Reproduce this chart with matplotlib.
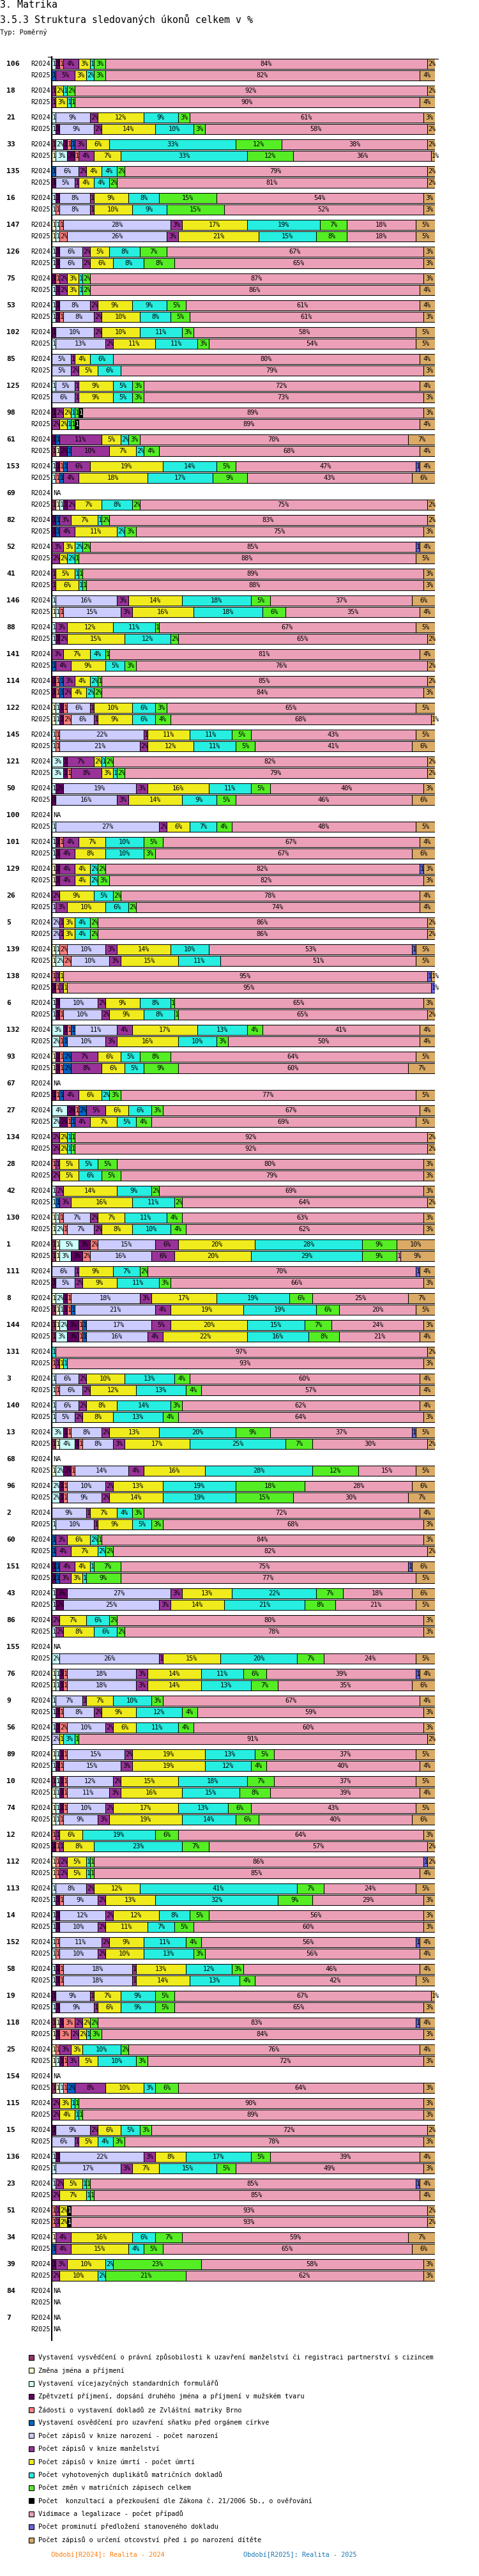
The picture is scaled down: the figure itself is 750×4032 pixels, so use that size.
import matplotlib
matplotlib.use('Agg')
import matplotlib.pyplot as plt
from matplotlib.patches import Rectangle
import numpy as np

# ---------------- data ----------------
groups = [106, 18, 21, 33, 135, 16, 147, 126, 75, 53, 102, 85, 125, 98, 61, 153, 69, 82, 52, 41,
          146, 88, 141, 114, 122, 145, 121, 50, 100, 101, 129, 26, 5, 139, 138, 6, 132, 93, 67, 27,
          134, 28, 42, 130, 1, 111, 8, 144, 131, 3, 140, 13, 68, 96, 2, 60, 151, 43, 86, 155,
          76, 9, 56, 89, 10, 74, 12, 112, 113, 14, 152, 58, 19, 118, 25, 154, 115, 15, 136, 23,
          51, 34, 39, 84, 7]

periods = ['R2024', 'R2025']

series_names = [
    'Vystavení vysvědčení o právní způsobilosti k uzavření manželství či registraci partnerství s cizincem',
    'Změna jména a příjmení',
    'Vystavení vícejazyčných standardních formulářů',
    'Zpětvzetí příjmení, dopsání druhého jména a příjmení v mužském tvaru',
    'Žádosti o vystavení dokladů ze Zvláštní matriky Brno',
    'Vystavení osvědčení pro uzavření sňatku před orgánem církve',
    'Počet zápisů v knize narození - počet narození',
    'Počet zápisů v knize manželství',
    'Počet zápisů v knize úmrtí - počet úmrtí',
    'Počet vyhotovených duplikátů matričních dokladů',
    'Počet změn v matričních zápisech celkem',
    'Počet  konzultací a přezkoušení dle Zákona č. 21/2006 Sb., o ověřování',
    'Vidimace a legalizace - počet případů',
    'Počet prominutí předložení stanoveného dokladu',
    'Počet zápisů o určení otcovství před i po narození dítěte',
]

series_colors = ['#993366', '#FFFFCC', '#CCFFFF', '#660066', '#FF8080', '#0066CC', '#CCCCFF',
                 '#993399', '#F0EB1C', '#26EEE0', '#55EE25', '#000000', '#EBA0B8', '#6666DD',
                 '#DAAA66']

# percentages per row, series order as above (None = NA)
values_2024 = [
    [0,0,1,1,1,0,0,4,3,1,3,0,84,0,2],      # 106
    [0,0,0,0,0,0,0,1,2,1,2,0,92,0,2],      # 18
    [0,0,1,0,0,0,9,2,12,9,3,0,61,0,3],     # 21
    [1,0,2,1,1,1,0,3,6,33,12,0,38,0,2],    # 33
    [0,0,0,0,0,1,6,2,4,4,2,0,79,0,2],      # 135
    [0,0,1,1,0,0,8,1,9,8,15,0,54,0,3],     # 16
    [0,1,1,0,1,0,28,3,17,19,7,0,18,0,5],   # 147
    [0,0,1,1,0,0,6,2,5,8,7,0,67,0,3],      # 126
    [0,0,0,1,1,0,0,2,3,1,2,0,87,0,3],      # 75
    [0,0,1,1,0,0,8,2,9,9,5,0,61,0,4],      # 53
    [0,0,0,1,0,0,10,2,10,11,3,0,58,0,5],   # 102
    [0,0,0,0,0,0,5,1,4,6,0,0,80,0,4],      # 85
    [0,0,1,0,0,0,5,1,9,5,3,0,72,0,4],      # 125
    [0,0,0,1,0,0,0,2,2,1,1,1,89,0,3],      # 98
    [0,0,0,1,0,1,0,11,5,2,3,0,70,0,7],     # 61
    [0,0,1,1,1,1,0,6,19,14,5,0,47,1,4],    # 153
    None,                                  # 69
    [0,0,0,1,0,1,0,3,7,1,2,0,83,0,2],      # 82
    [0,0,0,0,0,0,0,3,3,2,2,0,85,1,4],      # 52
    [0,0,0,0,0,0,0,1,5,1,1,0,89,0,3],      # 41
    [0,0,1,0,0,0,16,3,14,18,5,0,37,0,6],   # 146
    [0,0,1,0,0,0,0,3,12,11,1,0,67,0,5],    # 88
    [0,0,0,0,0,0,0,3,7,4,1,0,81,0,4],      # 141
    [0,0,0,1,1,1,0,3,4,2,1,0,85,0,2],      # 114
    [0,1,1,1,1,0,6,1,10,6,3,0,65,0,5],     # 122
    [0,0,1,0,1,0,22,1,11,11,5,0,43,0,5],   # 145
    [0,0,3,1,0,0,0,7,2,1,2,0,82,0,2],      # 121
    [0,0,1,2,0,0,19,3,16,11,5,0,40,0,3],   # 50
    None,                                  # 100
    [0,0,1,1,1,0,0,4,7,10,5,0,67,0,4],     # 101
    [0,1,0,1,0,0,0,4,4,2,2,0,82,1,3],      # 129
    [0,0,0,0,0,0,0,2,9,5,2,0,78,0,4],      # 26
    [0,0,0,0,0,0,2,1,3,4,2,0,86,0,2],      # 5
    [0,1,1,0,2,0,10,3,14,10,0,0,53,1,5],   # 139
    [0,0,0,0,1,0,0,1,1,0,0,0,95,1,1],      # 138
    [0,0,1,1,0,0,10,2,9,8,1,0,65,0,3],     # 6
    [0,0,3,1,1,1,11,4,17,13,4,0,41,0,4],   # 132
    [0,1,0,1,1,2,0,7,6,5,8,0,64,0,5],      # 93
    None,                                  # 67
    [0,0,4,2,1,2,0,5,6,6,3,0,67,0,4],      # 27
    [0,0,0,0,0,0,0,2,2,1,1,0,92,0,2],      # 134
    [0,0,0,0,1,0,0,1,5,5,5,0,80,0,3],      # 28
    [0,0,1,0,0,0,0,2,14,9,2,0,69,0,3],     # 42
    [0,1,1,0,1,0,7,2,7,11,4,0,63,0,3],     # 130
    [1,1,5,3,2,0,15,6,20,28,9,0,0,0,10],   # 1
    [0,0,0,0,0,0,6,1,9,7,2,0,70,1,4],      # 111
    [0,1,2,1,1,0,18,3,17,19,6,0,25,0,7],   # 8
    [1,1,2,3,1,1,17,5,20,15,7,0,24,0,3],   # 144
    [0,0,0,0,0,0,0,0,0,1,0,0,97,0,2],      # 131
    [0,0,1,0,0,0,6,2,10,13,4,0,60,0,4],    # 3
    [0,0,1,0,0,0,6,2,8,14,3,0,62,0,4],     # 140
    [0,0,3,1,1,0,8,2,13,20,9,0,37,1,5],    # 13
    None,                                  # 68
    [0,0,2,1,1,0,10,2,13,19,18,0,28,0,6],  # 96
    [0,0,0,0,0,0,9,1,7,4,3,0,72,0,4],      # 2
    [0,0,0,0,0,1,0,3,6,2,1,0,84,0,3],      # 60
    [0,0,0,1,0,1,0,4,4,1,7,0,75,1,6],      # 151
    [0,0,1,3,0,0,27,3,13,22,7,0,18,0,6],   # 43
    [0,0,0,0,0,0,0,2,7,6,2,0,80,0,3],      # 86
    None,                                  # 155
    [0,1,1,1,1,0,18,3,14,11,6,0,39,1,4],   # 76
    [0,0,1,0,0,0,7,1,7,10,3,0,67,0,4],     # 9
    [0,0,1,1,2,0,10,2,6,11,4,0,60,0,3],    # 56
    [0,1,1,1,1,0,15,2,19,13,5,0,37,0,5],   # 89
    [1,0,1,1,1,0,12,2,15,18,7,0,37,0,5],   # 10
    [0,1,1,1,1,0,10,2,17,13,6,0,43,0,5],   # 74
    [0,0,0,0,1,0,0,1,6,19,6,0,64,0,3],     # 12
    [0,1,0,0,1,0,0,2,5,1,1,0,86,1,2],      # 112
    [0,0,1,0,0,0,8,2,12,41,7,0,24,0,5],    # 113
    [0,0,1,1,0,0,12,2,12,8,5,0,56,0,3],    # 14
    [0,0,1,0,1,0,11,2,9,11,4,0,56,1,4],    # 152
    [0,0,1,1,1,0,18,1,13,12,3,0,46,0,4],   # 58
    [0,0,0,1,0,0,9,1,7,9,5,0,67,0,1],      # 19
    [1,1,0,1,3,0,0,2,2,0,2,0,83,1,4],      # 118
    [0,1,0,0,1,0,0,3,3,10,2,0,76,0,4],     # 25
    None,                                  # 154
    [0,0,0,0,0,0,0,2,3,1,1,0,90,0,3],      # 115
    [0,0,0,1,0,0,9,2,6,5,3,0,72,0,2],      # 15
    [0,0,1,1,0,0,22,3,8,17,5,0,39,0,4],    # 136
    [0,0,1,0,0,0,0,2,5,1,1,0,85,1,4],      # 23
    [0,0,0,0,1,0,0,1,2,0,0,1,93,0,2],      # 51
    [0,1,0,0,0,0,0,4,16,6,7,0,59,0,7],     # 34
    [0,0,0,1,0,0,0,3,10,2,23,0,58,0,3],    # 39
    None,                                  # 84
    None,                                  # 7
]

values_2025 = [
    [0,0,0,0,0,1,0,5,3,2,3,0,82,0,4],      # 106
    [0,0,0,0,0,0,0,1,3,1,1,0,90,0,4],      # 18
    [0,0,1,1,0,0,9,2,14,10,3,0,58,0,2],    # 21
    [0,1,3,2,1,0,0,4,7,33,12,0,36,0,1],    # 33
    [0,0,0,1,0,0,5,1,4,4,2,0,81,0,2],      # 135
    [0,0,1,0,1,0,8,1,10,9,15,0,52,0,3],    # 16
    [0,1,1,0,2,0,26,3,21,15,8,0,18,0,5],   # 147
    [0,0,1,1,0,0,6,2,6,8,8,0,65,0,3],      # 126
    [0,0,1,1,0,0,0,2,3,1,2,0,86,0,4],      # 75
    [0,0,1,1,1,0,8,2,10,8,5,0,61,0,3],     # 53
    [0,0,1,0,0,0,13,2,11,11,3,0,54,0,5],   # 102
    [0,0,0,0,0,0,5,2,5,6,0,0,79,0,3],      # 85
    [0,0,0,0,0,0,6,1,9,5,3,0,73,0,3],      # 125
    [0,0,0,0,0,0,0,2,2,1,1,1,89,0,4],      # 98
    [1,1,0,2,0,1,0,10,7,2,4,0,68,0,4],     # 61
    [0,0,1,0,1,1,0,4,18,17,9,0,43,0,6],    # 153
    [1,1,1,1,0,0,0,2,7,8,2,0,75,0,2],      # 69
    [0,0,0,1,0,1,0,4,11,2,3,0,75,0,3],     # 82
    [0,0,0,0,0,0,0,2,2,2,1,0,88,0,5],      # 52
    [0,0,0,0,0,0,0,1,6,1,1,0,88,0,3],      # 41
    [0,1,1,0,1,0,15,3,16,18,6,0,35,0,4],   # 146
    [0,0,1,1,0,0,0,2,15,12,2,0,65,0,2],    # 88
    [0,0,0,0,0,1,0,4,9,5,3,0,76,0,2],      # 141
    [0,0,0,1,1,1,0,2,4,2,2,0,84,0,3],      # 114
    [0,1,1,1,2,0,6,1,9,6,4,0,68,0,1],      # 122
    [0,0,1,0,1,0,21,2,12,11,5,0,41,0,6],   # 145
    [0,0,3,1,1,0,0,8,3,1,2,0,79,0,2],      # 121
    [0,0,0,1,0,0,16,3,14,9,5,0,46,0,6],    # 50
    [0,0,1,0,0,0,27,2,6,7,4,0,48,0,5],     # 100
    [0,0,1,1,0,0,0,4,8,10,3,0,67,0,6],     # 101
    [0,1,0,1,0,0,0,4,4,2,3,0,82,0,3],      # 129
    [0,0,0,0,0,0,1,3,10,6,2,0,74,0,4],     # 26
    [0,0,0,0,0,0,2,1,3,4,2,0,86,0,2],      # 5
    [0,1,2,0,2,0,10,3,15,11,0,0,51,0,5],   # 139
    [0,0,0,1,1,0,0,1,1,0,0,0,95,1,0],      # 138
    [0,0,1,1,1,0,10,2,9,8,1,0,65,0,2],     # 6
    [0,0,2,0,1,1,10,3,16,10,3,0,50,0,4],   # 132
    [0,1,0,1,1,2,0,8,6,5,9,0,60,0,7],      # 93
    [0,0,0,1,1,1,0,4,6,2,3,0,77,0,5],      # 67
    [0,0,2,2,1,1,0,4,7,5,4,0,69,0,5],      # 27
    [0,0,0,0,0,0,0,2,2,1,1,0,92,0,2],      # 134
    [0,0,0,0,0,0,0,2,5,6,5,0,79,0,3],      # 28
    [0,0,1,0,0,1,0,3,16,11,2,0,64,0,2],    # 42
    [0,1,2,0,1,0,7,2,8,10,4,0,62,0,3],     # 130
    [1,1,3,3,2,0,16,6,20,29,9,0,1,0,9],    # 1
    [0,0,0,1,0,0,5,2,9,11,3,0,66,0,3],     # 111
    [1,1,1,1,1,1,21,4,19,19,6,0,20,0,5],   # 8
    [1,0,3,3,1,1,16,4,22,16,8,0,21,0,4],   # 144
    [0,0,0,0,1,0,0,1,1,1,0,0,93,0,3],      # 131
    [0,0,1,0,1,0,6,2,12,13,4,0,57,0,4],    # 3
    [0,0,1,0,0,0,5,2,8,13,4,0,64,0,3],     # 140
    [1,1,4,1,1,0,8,3,17,25,7,0,30,0,2],    # 13
    [0,1,2,2,1,0,14,4,16,28,12,0,15,0,5],  # 68
    [0,0,2,1,1,0,9,2,14,19,15,0,30,0,7],   # 96
    [0,0,1,0,0,0,10,1,9,5,3,0,68,0,3],     # 2
    [0,0,0,0,0,1,0,4,7,2,2,0,82,0,2],      # 60
    [0,0,0,1,0,1,0,3,3,1,9,0,77,0,5],      # 151
    [0,0,1,2,0,0,25,3,14,21,8,0,21,0,5],   # 43
    [0,0,1,0,0,0,0,2,8,6,2,0,78,0,3],      # 86
    [0,0,2,0,0,0,26,1,15,20,7,0,24,0,5],   # 155
    [0,1,1,1,1,0,18,3,14,13,7,0,35,0,6],   # 76
    [0,0,1,1,1,0,8,2,9,12,4,0,59,0,3],     # 9
    [0,0,0,0,0,0,2,0,1,3,1,0,91,0,2],      # 56
    [0,0,1,1,1,0,15,3,19,12,4,0,40,0,4],   # 89
    [0,1,1,1,1,0,11,3,16,15,8,0,39,0,4],   # 10
    [0,1,1,0,1,0,9,3,19,14,6,0,40,0,6],    # 74
    [0,0,0,1,1,0,0,1,8,23,7,0,57,0,2],     # 12
    [0,1,0,0,1,0,0,2,5,1,1,0,85,0,4],      # 112
    [0,0,1,1,1,0,9,2,13,32,9,0,29,0,3],    # 113
    [0,0,1,1,0,0,10,2,11,7,5,0,60,0,3],    # 14
    [0,0,1,0,1,0,10,2,10,13,3,0,56,0,4],   # 152
    [0,0,1,1,1,0,18,1,14,13,4,0,42,0,5],   # 58
    [0,0,1,1,0,0,9,1,6,9,5,0,65,0,3],      # 19
    [0,1,0,1,3,0,0,2,2,1,3,0,84,0,3],      # 118
    [0,1,1,1,1,0,0,3,5,10,3,0,72,0,3],     # 25
    [1,1,1,0,1,2,0,8,10,3,6,0,64,0,3],     # 154
    [0,0,0,0,0,0,0,2,4,1,1,0,89,0,3],      # 115
    [0,0,0,0,0,0,6,1,5,4,3,0,78,0,3],      # 15
    [0,0,1,0,0,0,17,3,7,15,5,0,49,0,3],    # 136
    [0,0,0,0,0,0,0,2,7,1,1,0,85,0,4],      # 23
    [0,0,0,0,1,0,0,1,2,0,0,1,93,0,2],      # 51
    [0,0,0,0,0,1,0,4,15,4,5,0,65,0,6],     # 34
    [0,0,0,0,0,0,0,2,10,2,21,0,62,0,3],    # 39
    None,                                  # 84
    None,                                  # 7
]

footer_texts = ['Období[R2024]: Realita - 2024', 'Období[R2025]: Realita - 2025']
footer_colors = ['#FF7F0E', '#1F77B4']

# ---------------- layout ----------------
W, H, DPI = 750, 4032, 100
MONO = 'DejaVu Sans Mono'
SMALL = 7.4
CHAR_W = 0.602 * SMALL * DPI / 72.0   # px per character
PX = 6.0                              # px per percent unit

fig = plt.figure(figsize=(W / DPI, H / DPI), dpi=DPI)
fig.patch.set_facecolor('white')

AX_TOP, AX_BOT, AX_L, AX_W = 88, 3664, 81, 600
ax = fig.add_axes([AX_L / W, 1 - AX_BOT / H, AX_W / W, (AX_BOT - AX_TOP) / H])
ax.set_xlim(0, 100)
ax.set_ylim(AX_BOT - AX_TOP, 0)
ax.axis('off')

GROUP_PITCH, ROW_OFF, FIRST, BAR_H = 42.0, 18.0, 12.0, 15.4

# titles
fig.text(0, 1 - 8 / H, '3. Matrika', family=MONO, fontsize=10.7, va='center', ha='left')
fig.text(0, 1 - 30 / H, '3.5.3 Struktura sledovaných úkonů celkem v %', family=MONO,
         fontsize=10.7, va='center', ha='left')
fig.text(0, 1 - 51 / H, 'Typ: Poměrný', family=MONO, fontsize=SMALL, va='center', ha='left')

# axis lines
ax.plot([0, 0], [0, AX_BOT - AX_TOP], color='black', lw=1.5, clip_on=False,
        solid_capstyle='butt', zorder=5)
ax.plot([0, 100.83], [4.3, 4.3], color='black', lw=0.8, clip_on=False, zorder=5)
ax.plot([-1.0, 0], [1.3, 1.3], color='black', lw=0.8, clip_on=False, zorder=5)

tables = [values_2024, values_2025]
for gi, g in enumerate(groups):
    y_g = FIRST + GROUP_PITCH * gi
    ax.text(-71 / PX, y_g, str(g), family=MONO, fontweight='bold', fontsize=8.2,
            va='center', ha='left', clip_on=False)
    for pi, per in enumerate(periods):
        y = y_g + ROW_OFF * pi
        ax.text(-33 / PX, y, per, family=MONO, fontsize=SMALL, va='center', ha='left',
                clip_on=False)
        row = tables[pi][gi]
        if row is None:
            ax.text(2 / PX, y, 'NA', family=MONO, fontsize=SMALL, va='center', ha='left',
                    clip_on=False)
            continue
        vals = np.array(row, dtype=float)
        idx = [k for k in range(len(vals)) if vals[k] > 0]
        widths = vals / vals.sum() * 100.0
        lefts = np.concatenate([[0], np.cumsum(widths)[:-1]])
        ax.barh([y] * len(idx), widths[idx], left=lefts[idx], height=BAR_H,
                color=[series_colors[k] for k in idx], edgecolor='black', linewidth=0.75,
                zorder=2)
        for n, k in enumerate(idx):
            lab = f'{int(row[k])}%'
            seg_px = widths[k] * PX
            tw = len(lab) * CHAR_W
            if tw <= seg_px - 1:
                tx, ha = lefts[k] + widths[k] / 2, 'center'
            else:
                tx, ha = lefts[k] + 1.2 / PX, 'left'
            extra = 2.0 if n == len(idx) - 1 else 0.0
            clip = Rectangle((lefts[k], y - BAR_H / 2), widths[k] + extra, BAR_H,
                             transform=ax.transData)
            col = 'white' if series_colors[k] == '#000000' else 'black'
            t = ax.text(tx, y + 0.3, lab, family=MONO, fontsize=SMALL, va='center', ha=ha,
                        color=col, clip_on=True, zorder=3)
            t.set_clip_path(clip)

# legend
LEG_Y0, LEG_PITCH = 3690, 20.4
for k, name in enumerate(series_names):
    yc = LEG_Y0 + LEG_PITCH * k
    fig.add_artist(Rectangle((45 / W, 1 - (yc + 4) / H), 8 / W, 8 / H,
                             transform=fig.transFigure, facecolor=series_colors[k],
                             edgecolor='black', linewidth=0.8))
    fig.text(60 / W, 1 - yc / H, name, family=MONO, fontsize=SMALL, va='center', ha='left')

# footer
for txt, col, xp in zip(footer_texts, footer_colors, [80, 381]):
    fig.text(xp / W, 1 - 3999 / H, txt, family=MONO, fontsize=SMALL, color=col,
             va='center', ha='left')

fig.savefig('out.png', dpi=DPI)
